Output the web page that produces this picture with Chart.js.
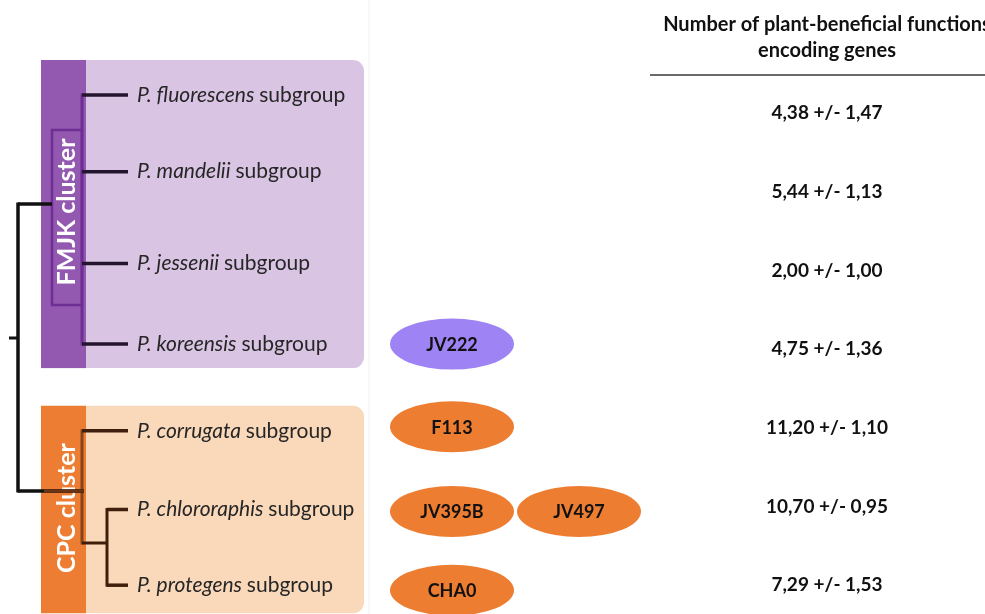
<!DOCTYPE html>
<html>
<head>
<meta charset="utf-8">
<script src="https://cdn.jsdelivr.net/npm/chart.js@4.4.1/dist/chart.umd.min.js"></script>
<style>
  html, body { margin: 0; padding: 0; background: #fff; }
  #wrap { width: 985px; height: 614px; position: relative; }
</style>
</head>
<body>
<div id="wrap"><canvas id="chart"></canvas></div>
<script>
// data
const subgroups = ["fluorescens", "mandelii", "jessenii", "koreensis", "corrugata", "chlororaphis", "protegens"];
const clusterNames = ["FMJK cluster", "CPC cluster"];
const clusterOf = [0, 0, 0, 0, 1, 1, 1];
const meanGenes = [4.38, 5.44, 2.00, 4.75, 11.20, 10.70, 7.29];
const sdGenes = [1.47, 1.13, 1.00, 1.36, 1.10, 0.95, 1.53];
const strains = [[], [], [], ["JV222"], ["F113"], ["JV395B", "JV497"], ["CHA0"]];
const headerLines = ["Number of plant-beneficial functions", "encoding genes"];

// layout (pixels)
const TABLE_X = 827;
const LABEL_X = 137;
const STRAIN_X = [452, 579];
const labelShift = [-18, -20, -7, -5, 3, 3, 0];
const ovalShift = [0, 0, 0, -5, -1, 5, 5];
const FONT = "Lato, 'Open Sans', sans-serif";

const style = [
  { light: "#d9c4e3", dark: "#9358b0", line: "#6e2f95", branch: "#24152e", oval: "#9d83f3" },
  { light: "#fad8ba", dark: "#ec7d32", line: "#86451c", branch: "#3f1e0b", oval: "#ed7d31" },
];

const fmt = (v) => v.toFixed(2).replace(".", ",");

const valuePoints = meanGenes.map((m, i) => ({ x: TABLE_X, y: i }));
const strainPoints = [];
const strainNames = [];
strains.forEach((list, i) => {
  list.forEach((s, k) => {
    strainPoints.push({ x: STRAIN_X[k], y: i });
    strainNames.push(s);
  });
});

function line(ctx, x1, y1, x2, y2, color, w) {
  ctx.strokeStyle = color;
  ctx.lineWidth = w;
  ctx.beginPath();
  ctx.moveTo(x1, y1);
  ctx.lineTo(x2, y2);
  ctx.stroke();
}

const treePlugin = {
  id: "tree",
  beforeDatasetsDraw(chart) {
    const ctx = chart.ctx;
    const ys = chart.scales.y;
    const rowY = (i) => ys.getPixelForValue(i) + labelShift[i];
    ctx.save();
    ctx.lineCap = "butt";

    // faint edge of the pasted tree image
    line(ctx, 369, 0, 369, 614, "#f1f1f1", 1);

    // cluster boxes
    clusterNames.forEach((name, c) => {
      const rows = subgroups.map((_, i) => i).filter((i) => clusterOf[i] === c);
      const top = rowY(rows[0]) - (c === 0 ? 35 : 25);
      const bottom = rowY(rows[rows.length - 1]) + (c === 0 ? 24 : 28);
      const st = style[c];
      ctx.fillStyle = st.light;
      ctx.beginPath();
      ctx.roundRect(41, top, 323, bottom - top, [0, 11, 11, 0]);
      ctx.fill();
      ctx.fillStyle = st.dark;
      ctx.fillRect(41, top, 45, bottom - top);

      const mid = c === 0 ? 212 : 508;
      if (c === 0) {
        ctx.strokeStyle = st.line;
        ctx.lineWidth = 2.5;
        ctx.strokeRect(52, 130, 30, 175);
      }
      ctx.save();
      ctx.translate(67, mid);
      ctx.rotate(-Math.PI / 2);
      ctx.fillStyle = "#ffffff";
      ctx.font = "bold 25px " + FONT;
      ctx.textAlign = "center";
      ctx.textBaseline = "middle";
      ctx.fillText(name, 0, 0);
      ctx.restore();
    });

    // FMJK comb
    const f = [0, 1, 2, 3].map(rowY);
    line(ctx, 82, f[0] - 1.5, 82, f[3] + 1.5, style[0].line, 3);
    f.forEach((y) => line(ctx, 82, y, 128, y, style[0].branch, 3.5));

    // CPC: corrugata + (chlororaphis, protegens)
    const p = [4, 5, 6].map(rowY);
    const inner = 543;
    line(ctx, 82, p[0] - 1.5, 82, inner + 1.5, style[1].line, 3);
    line(ctx, 82, p[0], 128, p[0], style[1].branch, 3.5);
    line(ctx, 82, inner, 107, inner, style[1].branch, 3);
    line(ctx, 107, p[1] - 1.5, 107, p[2] + 1.5, style[1].branch, 3);
    line(ctx, 107, p[1], 128, p[1], style[1].branch, 3.5);
    line(ctx, 107, p[2], 128, p[2], style[1].branch, 3.5);

    // root
    line(ctx, 18, 204, 52, 204, "#111111", 3.5);
    line(ctx, 18, 202.5, 18, 492.5, "#111111", 3.5);
    line(ctx, 18, 491, 84, 491, "#111111", 3.5);
    line(ctx, 44, 491, 84, 491, "#6b3413", 3);
    line(ctx, 9, 338, 18, 338, "#111111", 3);

    // subgroup labels
    ctx.textBaseline = "middle";
    ctx.textAlign = "left";
    subgroups.forEach((g, i) => {
      const y = rowY(i);
      ctx.fillStyle = "#262626";
      ctx.font = "italic 21px " + FONT;
      const a = "P. " + g;
      ctx.fillText(a, LABEL_X, y);
      const w = ctx.measureText(a + " ").width;
      ctx.font = "21px " + FONT;
      ctx.fillText("subgroup", LABEL_X + w, y);
    });

    // table header
    ctx.fillStyle = "#111111";
    ctx.font = "bold 20px " + FONT;
    ctx.textAlign = "center";
    headerLines.forEach((t, k) => ctx.fillText(t, TABLE_X, 25 + k * 26));
    line(ctx, 650, 75, 985, 75, "#6a6a6a", 2);
    ctx.restore();
  },
  afterDatasetsDraw(chart) {
    const ctx = chart.ctx;
    ctx.save();
    ctx.textAlign = "center";
    ctx.textBaseline = "middle";

    // strain ovals
    chart.getDatasetMeta(1).data.forEach((el, k) => {
      const row = strainPoints[k].y;
      const y = el.y + ovalShift[row];
      ctx.fillStyle = style[clusterOf[row]].oval;
      ctx.beginPath();
      ctx.ellipse(el.x, y, 62, 25.5, 0, 0, Math.PI * 2);
      ctx.fill();
      ctx.fillStyle = "#111111";
      ctx.font = "bold 18px " + FONT;
      ctx.fillText(strainNames[k], el.x, y + 1);
    });

    // mean +/- sd
    ctx.font = "bold 19px " + FONT;
    ctx.fillStyle = "#111111";
    chart.getDatasetMeta(0).data.forEach((el, i) => {
      ctx.fillText(fmt(meanGenes[i]) + " +/- " + fmt(sdGenes[i]), el.x, el.y);
    });
    ctx.restore();
  },
};

new Chart(document.getElementById("chart"), {
  type: "scatter",
  data: {
    datasets: [
      { label: "Plant-beneficial function genes", data: valuePoints, pointRadius: 0 },
      { label: "Strains", data: strainPoints, pointRadius: 0 },
    ],
  },
  options: {
    responsive: true,
    maintainAspectRatio: false,
    animation: false,
    events: [],
    layout: { padding: 0 },
    plugins: { legend: { display: false }, tooltip: { enabled: false } },
    scales: {
      x: { type: "linear", min: 0, max: 985, display: false },
      y: { type: "linear", min: -1.436, max: 6.366, reverse: true, display: false },
    },
  },
  plugins: [treePlugin],
});
</script>
</body>
</html>
